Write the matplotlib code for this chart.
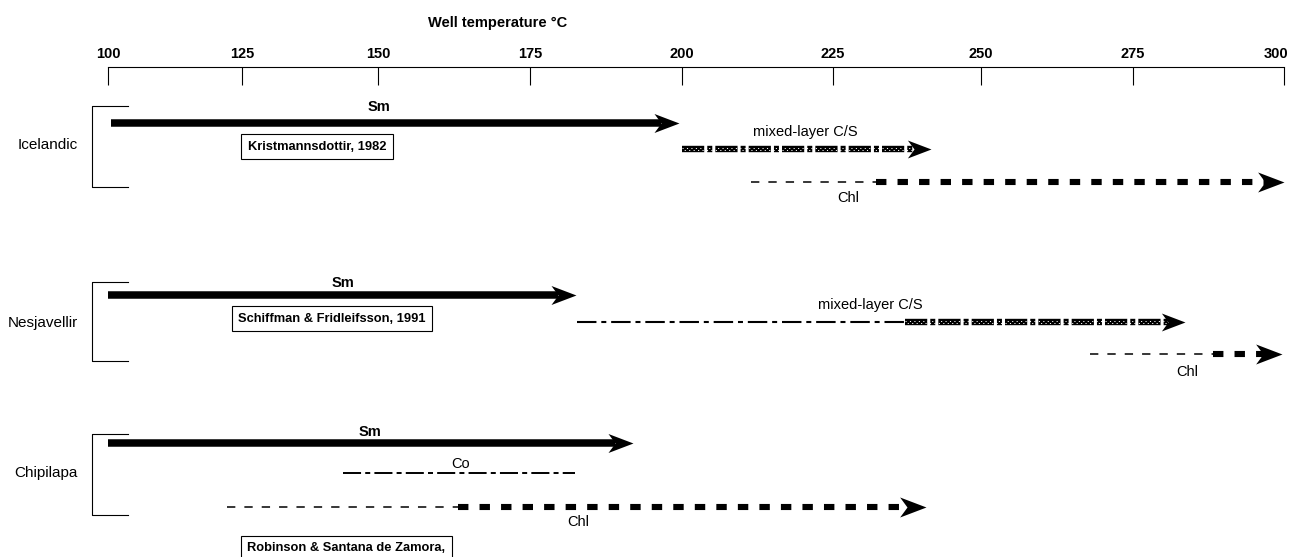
import numpy as np
import matplotlib
matplotlib.use('Agg')
import matplotlib.pyplot as plt
import matplotlib.transforms as mtransforms
from matplotlib.path import Path

plt.rcParams['font.family'] = ['Liberation Sans', 'DejaVu Sans']
plt.rcParams['lines.scale_dashes'] = False

# --- data: temperature ranges (deg C) ---
FIELDS = ['Icelandic', 'Nesjavellir', 'Chipilapa']
REFERENCES = ['Kristmannsdottir, 1982', 'Schiffman & Fridleifsson, 1991',
              'Robinson & Santana de Zamora,']
TICK_TEMPS = [100, 125, 150, 175, 200, 225, 250, 275, 300]

SM_RANGE = [(100.5, 199.5), (100.0, 182.6), (100.0, 192.0)]
CS_DASHDOT = [None, (182.7, 237.2), None]          # mixed-layer C/S, dash-dot part
CS_PATTERN = [(200.0, 241.6), (237.2, 283.6), None]  # mixed-layer C/S, patterned part
CHL_THIN = [(211.5, 232.3), (267.9, 288.2), (122.2, 163.2)]
CHL_THICK = [(232.3, 300.0), (288.2, 299.7), (163.2, 240.7)]
CO_RANGE = [None, None, (143.6, 182.4)]

# --- layout ---
# the scanned axis is not evenly spaced, so map tick temps to where they sit
SCALE_T = [75] + TICK_TEMPS + [325]
SCALE_P = [-26, 108, 242, 378, 530, 682, 833, 981, 1133, 1284, 1435]

ROW_TOP = [106, 282, 434]
ROW_BOTTOM = [187, 361, 515]
ROW_LABEL_Y = [145, 323, 473]
SM_Y = [123, 295, 443]
SM_LABEL = [(150.2, 107), (143.6, 283), (148.5, 432)]
CS_Y = [149, 322, None]
CS_LABEL = [(220.4, 132), (231.3, 305), None]
CHL_Y = [181.5, 354, 507]
CHL_LABEL = [(227.5, 198), (284.0, 372), (182.9, 522)]
CO_Y = 473
CO_LABEL = (163.5, 464)
REF_POS = [(138.8, 146.5, 'center'), (141.5, 318.5, 'center'), (126.0, 548, 'left')]


def fwd(t):
    return np.interp(t, SCALE_T, SCALE_P)


def inv(p):
    return np.interp(p, SCALE_P, SCALE_T)


fig = plt.figure(figsize=(12.93, 5.57), dpi=100)
ax = fig.add_axes([0, 0, 1, 1 - 67 / 557])
ax.set_xscale('function', functions=(fwd, inv))
ax.set_xlim(inv(0), inv(1293))
ax.set_ylim(557, 67)

for side in ['left', 'right', 'bottom']:
    ax.spines[side].set_visible(False)
ax.spines['top'].set_bounds(100, 300)
ax.spines['top'].set_linewidth(0.8)
ax.xaxis.tick_top()
ax.set_xticks(TICK_TEMPS)
ax.set_xticklabels([str(t) for t in TICK_TEMPS], fontweight='bold')
ax.xaxis.set_minor_locator(matplotlib.ticker.NullLocator())
ax.tick_params(axis='x', direction='in', length=13, width=0.8, pad=4.5, labelsize=10.5)
ax.set_yticks([])
# last label sits a little left of its tick in the original
last = ax.get_xticklabels()[-1]
last.set_transform(last.get_transform() + mtransforms.ScaledTranslation(-6 / 72, 0, fig.dpi_scale_trans))

ax.text(169.6, 23, 'Well temperature °C', ha='center', va='center',
        fontsize=10.5, fontweight='bold')

HEAD = Path([(0, 0), (-25, 9.5), (-18, 0), (-25, -9.5), (0, 0)],
            [Path.MOVETO, Path.LINETO, Path.LINETO, Path.LINETO, Path.CLOSEPOLY])


def back_off(x, y, px):
    # x value lying px pixels to the left of (x, y)
    dx, dy = ax.transData.transform((x, y))
    return ax.transData.inverted().transform((dx - px, dy))[0]


def arrow_head(x, y, size=36):
    ax.plot([x], [y], marker=HEAD, markersize=size, color='black',
            markeredgewidth=0, linestyle='none')


def patterned(x0, x1, y):
    ax.plot([x0, x1], [y, y], color='black', lw=4.6, linestyle=(0, (16, 2.2, 3.6, 2.2)))
    ax.plot([x0, x1], [y - 1.2, y - 1.2], color='white', lw=0.7, linestyle=(0, (0.8, 2.4)))
    ax.plot([x0, x1], [y + 1.2, y + 1.2], color='white', lw=0.7, linestyle=(1.6, (0.8, 2.4)))


for i, field in enumerate(FIELDS):
    # bracket and field name
    ax.plot([103.7, 97.1, 97.1, 103.7], [ROW_TOP[i], ROW_TOP[i], ROW_BOTTOM[i], ROW_BOTTOM[i]],
            color='black', lw=0.8)
    ax.text(94.4, ROW_LABEL_Y[i], field, ha='right', va='center', fontsize=11)

    # smectite
    x0, x1 = SM_RANGE[i]
    ax.plot([x0, back_off(x1, SM_Y[i], 18)], [SM_Y[i], SM_Y[i]], color='black',
            lw=5.4, solid_capstyle='butt')
    arrow_head(x1, SM_Y[i])
    ax.text(SM_LABEL[i][0], SM_LABEL[i][1], 'Sm', ha='center', va='center',
            fontsize=10.5, fontweight='bold')

    # mixed-layer chlorite/smectite
    if CS_DASHDOT[i] is not None:
        x0, x1 = CS_DASHDOT[i]
        ax.plot([x0, x1], [CS_Y[i], CS_Y[i]], color='black', lw=1.5,
                linestyle=(0, (14, 3.5, 3.6, 3.5)))
    if CS_PATTERN[i] is not None:
        x0, x1 = CS_PATTERN[i]
        patterned(x0, back_off(x1, CS_Y[i], 17), CS_Y[i])
        arrow_head(x1, CS_Y[i], 34)
        ax.text(CS_LABEL[i][0], CS_LABEL[i][1], 'mixed-layer C/S', ha='center',
                va='center', fontsize=10.5)

    # corrensite
    if CO_RANGE[i] is not None:
        x0, x1 = CO_RANGE[i]
        ax.plot([x0, x1], [CO_Y, CO_Y], color='black', lw=1.4,
                linestyle=(0, (13, 3, 3.6, 3)))
        ax.text(CO_LABEL[0], CO_LABEL[1], 'Co', ha='center', va='center', fontsize=10.5)

    # chlorite
    x0, x1 = CHL_THIN[i]
    ax.plot([x0, x1], [CHL_Y[i], CHL_Y[i]], color='black', lw=1.1,
            linestyle=(0, (6, 6.5)))
    x0, x1 = CHL_THICK[i]
    ax.plot([x0, back_off(x1, CHL_Y[i], 18)], [CHL_Y[i], CHL_Y[i]], color='black',
            lw=4.4, linestyle=(0, (7.5, 8)))
    arrow_head(x1, CHL_Y[i], 38)
    ax.text(CHL_LABEL[i][0], CHL_LABEL[i][1], 'Chl', ha='center', va='center', fontsize=10.5)

    # reference box
    rx, ry, ha = REF_POS[i]
    ax.text(rx, ry, REFERENCES[i], ha=ha, va='center', fontsize=9.3, fontweight='bold',
            bbox=dict(boxstyle='square,pad=0.5', facecolor='white', edgecolor='black', lw=0.8))

fig.savefig('out.png', dpi=100)
